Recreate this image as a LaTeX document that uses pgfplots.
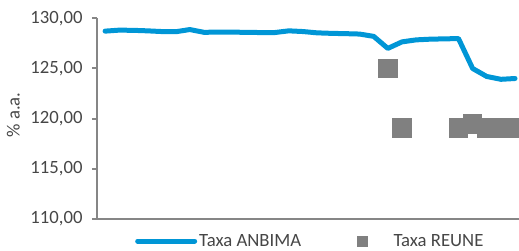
\documentclass[border=0pt]{standalone}
\usepackage{fontspec}
\setmainfont{Carlito}
\usepackage{pgfplots}
\pgfplotsset{compat=1.18}
\definecolor{anbima}{RGB}{0,150,214}
\definecolor{reune}{RGB}{128,128,128}
\definecolor{axisgray}{RGB}{134,134,134}
\definecolor{txt}{RGB}{70,70,70}
\begin{document}
\begin{tikzpicture}[font=\fontsize{18.7bp}{21bp}\selectfont]
\begin{axis}[
  name=ax,
  scale only axis,
  width=422bp, height=200.7bp,
  xmin=-0.57, xmax=29.28,
  ymin=110, ymax=130,
  axis x line=bottom, axis y line=left,
  axis line style={-, draw=axisgray, line width=2bp},
  xtick=\empty,
  ytick={110,115,120,125,130},
  tick align=outside,
  major tick length=5bp,
  ytick style={draw=axisgray, line width=2bp},
  /pgf/number format/.cd, fixed, fixed zerofill, precision=2, use comma, assume math mode=true,
  /pgfplots/.cd,
  yticklabel style={text=txt, font=\fontsize{18.7bp}{21bp}\selectfont, xshift=-6bp},
  ylabel={\% a.a.},
  ylabel style={at={(axis description cs:-0.198,0.518)}, anchor=center, text=txt, font=\fontsize{18.7bp}{21bp}\selectfont},
  clip marker paths=true,
  legend columns=2,
  legend style={at={(axis description cs:0.09,-0.11)}, anchor=west, draw=none, fill=none, inner sep=0pt,
    nodes={inner sep=0pt, text=txt, font=\fontsize{18.7bp}{21bp}\selectfont},
    /tikz/column 1/.style={column sep=2bp},
    /tikz/column 2/.style={column sep=56bp},
    /tikz/column 3/.style={column sep=26bp}},
]
\addplot[anbima, line width=5bp, line join=round, line cap=round,
  legend image code/.code={\draw[anbima, line width=5bp, line cap=round] (0bp,0bp) -- (57bp,0bp);}]
  coordinates {
(0,128.72) (1,128.82) (2,128.80) (3,128.75) (4,128.68) (5,128.66) (6,128.88) (7,128.60)
(8,128.63) (9,128.62) (10,128.60) (11,128.58) (12,128.58) (13,128.75) (14,128.68) (15,128.55)
(16,128.50) (17,128.47) (18,128.43) (19,128.20) (20,127.00) (21,127.65) (22,127.85) (23,127.92)
(24,127.95) (25,127.98) (26,125.00) (27,124.20) (28,123.92) (29,124.00)
};
\addlegendentry{Taxa ANBIMA}
\addplot[only marks, mark=square*, mark size=9.2bp, mark options={draw=reune, fill=reune, line width=0pt},
  legend image code/.code={\fill[reune] (0bp,-5bp) rectangle (10bp,5bp);}]
  coordinates {
(20,125.02) (21,119.05) (25,119.05) (26,119.45) (27,119.05) (28,119.05) (29,119.05)
};
\addlegendentry{Taxa REUNE}
\end{axis}
\pgfresetboundingbox
\path ([xshift=-97bp,yshift=-32bp]ax.south west) rectangle ([yshift=18.3bp]ax.north east);
\end{tikzpicture}
\end{document}
